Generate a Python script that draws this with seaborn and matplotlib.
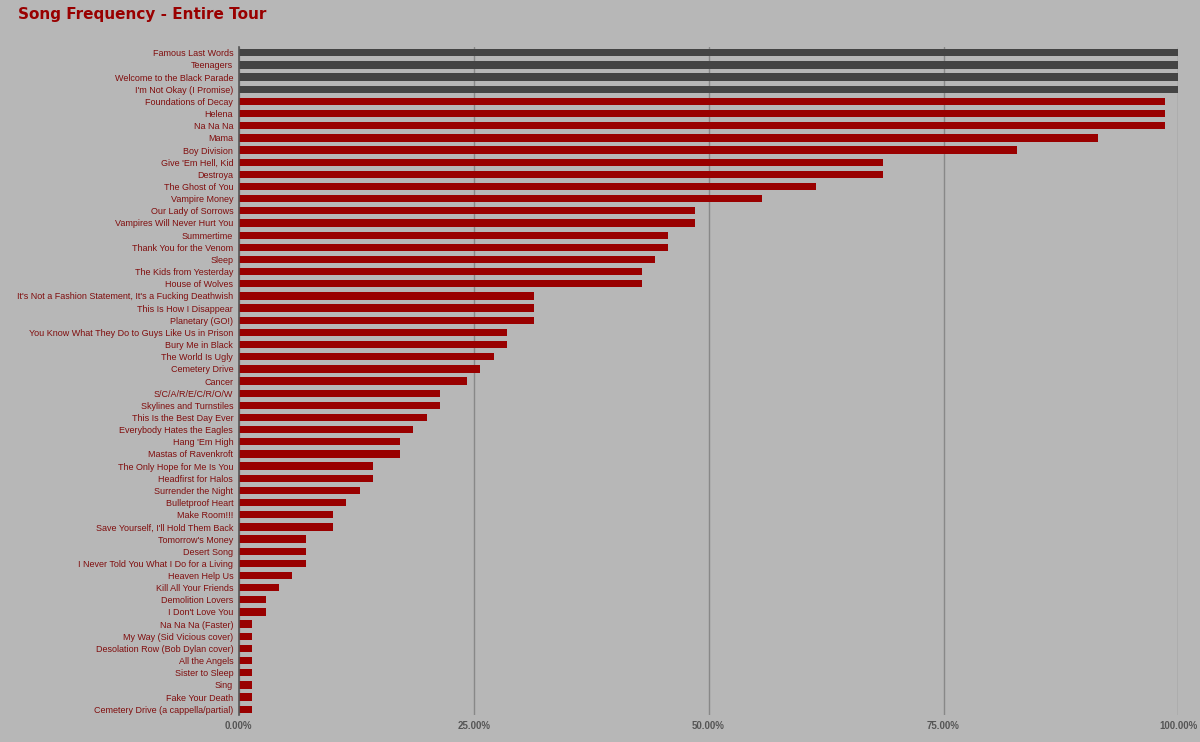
import matplotlib
matplotlib.use('Agg')
import matplotlib.pyplot as plt
import matplotlib.ticker as mticker
import seaborn as sns
import pandas as pd

songs = [
    "Famous Last Words", "Teenagers", "Welcome to the Black Parade",
    "I'm Not Okay (I Promise)", "Foundations of Decay", "Helena", "Na Na Na",
    "Mama", "Boy Division", "Give 'Em Hell, Kid", "Destroya", "The Ghost of You",
    "Vampire Money", "Our Lady of Sorrows", "Vampires Will Never Hurt You",
    "Summertime", "Thank You for the Venom", "Sleep", "The Kids from Yesterday",
    "House of Wolves", "It's Not a Fashion Statement, It's a Fucking Deathwish",
    "This Is How I Disappear", "Planetary (GO!)",
    "You Know What They Do to Guys Like Us in Prison", "Bury Me in Black",
    "The World Is Ugly", "Cemetery Drive", "Cancer", "S/C/A/R/E/C/R/O/W",
    "Skylines and Turnstiles", "This Is the Best Day Ever",
    "Everybody Hates the Eagles", "Hang 'Em High", "Mastas of Ravenkroft",
    "The Only Hope for Me Is You", "Headfirst for Halos", "Surrender the Night",
    "Bulletproof Heart", "Make Room!!!", "Save Yourself, I'll Hold Them Back",
    "Tomorrow's Money", "Desert Song", "I Never Told You What I Do for a Living",
    "Heaven Help Us", "Kill All Your Friends", "Demolition Lovers",
    "I Don't Love You", "Na Na Na (Faster)", "My Way (Sid Vicious cover)",
    "Desolation Row (Bob Dylan cover)", "All the Angels", "Sister to Sleep",
    "Sing", "Fake Your Death", "Cemetery Drive (a cappella/partial)",
]

# percent of shows each song was played
frequency = [
    100.0, 100.0, 100.0, 100.0, 98.57, 98.57, 98.57,
    91.43, 82.86, 68.57, 68.57, 61.43,
    55.71, 48.57, 48.57,
    45.71, 45.71, 44.29, 42.86,
    42.86, 31.43,
    31.43, 31.43,
    28.57, 28.57,
    27.14, 25.71, 24.29, 21.43,
    21.43, 20.0,
    18.57, 17.14, 17.14,
    14.29, 14.29, 12.86,
    11.43, 10.0, 10.0,
    7.14, 7.14, 7.14,
    5.71, 4.29, 2.86,
    2.86, 1.43, 1.43,
    1.43, 1.43, 1.43,
    1.43, 1.43, 1.43,
]

group = ["every show" if f >= 100 else "other" for f in frequency]

df = pd.DataFrame({"song": songs, "freq": frequency, "group": group})

bg = "#b7b7b7"
red = "#990000"
dark = "#444444"
label_red = "#800d0d"

sns.set_theme(style="white")
plt.rcParams['font.family'] = ['Liberation Sans', 'DejaVu Sans']

fig = plt.figure(figsize=(12, 7.42), dpi=100, facecolor=bg)
ax = fig.add_axes([0.199, 0.036, 0.783, 0.901])
ax.set_facecolor(bg)

sns.barplot(data=df, x="freq", y="song", hue="group",
            palette={"every show": dark, "other": red},
            dodge=False, width=0.6, legend=False, ax=ax, saturation=1,
            linewidth=0)

ax.set_xlim(0, 100)
ax.set_ylim(len(songs) - 0.5, -0.5)
ax.xaxis.set_major_locator(mticker.MultipleLocator(25))
ax.xaxis.set_major_formatter(mticker.FuncFormatter(lambda v, p: f"{v:.2f}%"))
ax.grid(axis="x", color="#888888", linewidth=1)
ax.set_axisbelow(True)

for s in ["top", "right", "bottom"]:
    ax.spines[s].set_visible(False)
ax.spines["left"].set_color("#555555")
ax.spines["left"].set_linewidth(1.2)

ax.set_xlabel("")
ax.set_ylabel("")
ax.tick_params(axis="y", length=0, pad=4, labelsize=6.5, labelcolor=label_red)
ax.tick_params(axis="x", length=0, pad=4, labelsize=7.0, labelcolor="#555555")
for t in ax.get_xticklabels():
    t.set_fontweight("bold")

fig.text(0.015, 0.99, "Song Frequency - Entire Tour", color=red,
         fontsize=11, fontweight="bold", family="DejaVu Sans",
         ha="left", va="top")

plt.savefig("out.png", dpi=100, facecolor=bg)
plt.close()
